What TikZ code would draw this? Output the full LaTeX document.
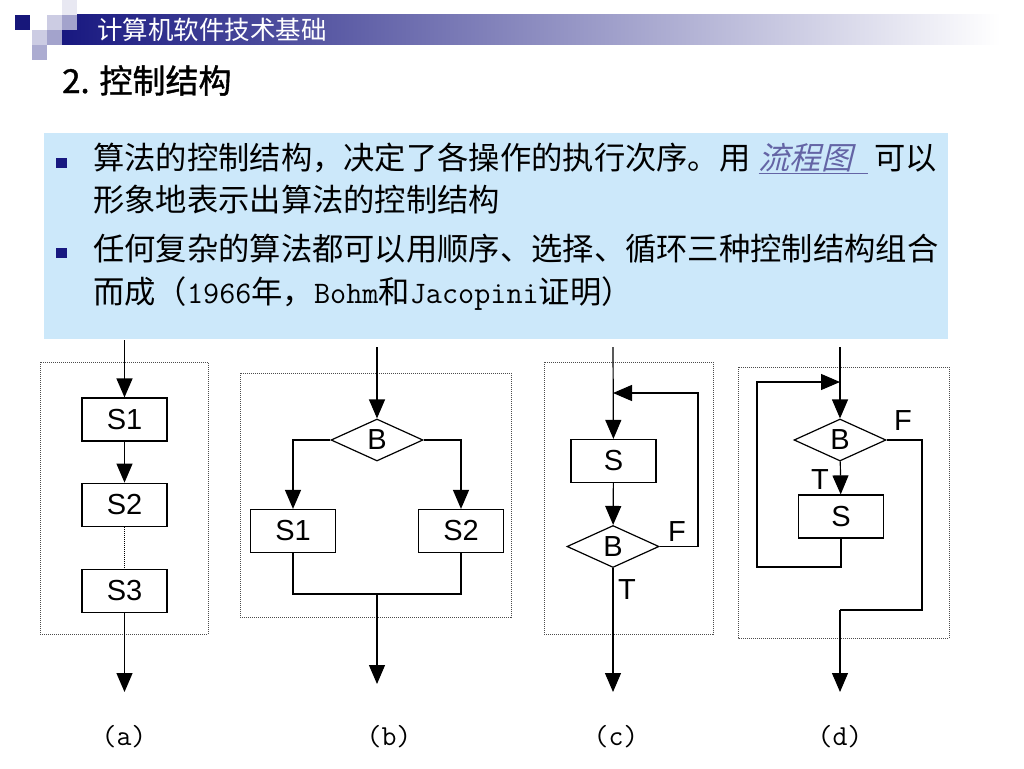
\documentclass[tikz,border=0pt]{standalone}
\usepackage{fontspec}
\usetikzlibrary{positioning,arrows.meta,shapes.geometric}
\newfontfamily\cjk{Noto Sans CJK SC}
\newfontfamily\cjkmed[FakeBold=1.2]{Noto Sans CJK SC}
\newfontfamily\cjkit[FakeSlant=0.25]{Noto Sans CJK SC}
\newfontfamily\arial{Liberation Sans}
\definecolor{navy}{RGB}{24,24,128}
\definecolor{boxblue}{RGB}{204,232,250}
\definecolor{linkc}{RGB}{100,100,165}

\begin{document}
\begin{tikzpicture}[x=1pt,y=-1pt,
    blk/.style={draw,line width=1.2pt,minimum width=85pt,minimum height=43pt,inner sep=0pt,font=\arial\fontsize{29}{29}\selectfont},
    cond/.style={draw,diamond,aspect=2.2,line width=1.2pt,minimum width=92pt,minimum height=42pt,inner sep=0pt,font=\arial\fontsize{29}{29}\selectfont},
    flow/.style={-{Triangle[length=19pt,width=16pt]},line width=1.2pt},
    frm/.style={draw=black!70,line width=0.8pt,dash pattern=on 1pt off 1pt},
    lbl/.style={font=\arial\fontsize{29}{29}\selectfont,inner sep=0pt},
    tag/.style={font=\ttfamily\fontsize{29}{29}\selectfont},
    line/.style={anchor=base west,inner sep=0pt,font=\cjk\fontsize{31.3}{31.3}\selectfont}]
    \useasboundingbox (0,0) rectangle (1024,768);
    \fill[white] (0,0) rectangle (1024,768);

    % header bar
    \shade[left color=navy,right color=white] (62,15) rectangle (1000,45);
    \fill[navy!95!black] (15,15) rectangle (30,30);
    \fill[navy!22] (47,15) rectangle (62,30);
    \fill[navy!10] (62,0) rectangle (77,15);
    \fill[navy!40] (62,15) rectangle (77,30);
    \fill[navy!22] (32,30) rectangle (47,45);
    \fill[navy!40] (47,30) rectangle (62,45);
    \fill[navy!36] (32,45) rectangle (47,60);
    \node[anchor=west,inner sep=0pt,text=white,font=\cjk\fontsize{25.5}{25.5}\selectfont] (head) at (97,30) {计算机软件技术基础};
    \node[anchor=base west,inner sep=0pt,font=\cjkmed\fontsize{33}{33}\selectfont] (title) at (62,93) {2. 控制结构};

    % text box
    \fill[boxblue] (44,133) rectangle (948,339);
    \fill[navy] (56,158) rectangle (67,168);
    \fill[navy] (56,248) rectangle (67,258);
    \node[line] (t1) at (93,169) {算法的控制结构，决定了各操作的执行次序。用\hspace{8pt}{\color{linkc}\underline{\cjkit 流程图\hspace{16pt}}}\hspace{6pt}可以};
    \node[line] (t2) at (93,211) {形象地表示出算法的控制结构};
    \node[line] (t3) at (93,260) {任何复杂的算法都可以用顺序、选择、循环三种控制结构组合};
    \node[line] (t4) at (93,303) {而成（{\ttfamily 1966}年，{\ttfamily Bohm}和{\ttfamily Jacopini}证明）};

    % (a) sequence
    \draw[frm] (40,362) rectangle (208,634);
    \coordinate (ain) at (124.5,340);
    \node[blk] (a1) at (124.5,419.5) {S1};
    \node[blk] (a2) [below=41pt of a1] {S2};
    \node[blk] (a3) [below=42pt of a2] {S3};
    \coordinate (aout) at (124.5,692);
    \draw[flow] (ain) -- (a1);
    \draw[flow] (a1) -- (a2);
    \draw[line width=0.8pt,dash pattern=on 1pt off 1pt] (a2) -- (a3);
    \draw[flow] (a3) -- (aout);

    % (b) selection
    \draw[frm] (240,373) rectangle (511,617);
    \coordinate (bin) at (377,347);
    \node[cond] (bc) at (377,440) {B};
    \node[blk] (b1) at (293,531) {S1};
    \node[blk] (b2) at (461,531) {S2};
    \coordinate (bj) at (377,594);
    \coordinate (bout) at (377,684);
    \draw[flow] (bin) -- (bc);
    \draw[flow] (bc.west) -| (b1);
    \draw[flow] (bc.east) -| (b2);
    \draw[line width=1.2pt] (b1.south) |- (bj) -| (b2.south);
    \draw[flow] (bj) -- (bout);

    % (c) do-until loop
    \draw[frm] (544,362) rectangle (713,634);
    \coordinate (cin) at (613,347);
    \coordinate (cback) at (613,393);
    \coordinate (cturn) at (698,393);
    \node[blk] (cs) at (613.5,461) {S};
    \node[cond] (cc) at (613,546.5) {B};
    \coordinate (cout) at (613,692);
    \draw[flow] (cin) -- (cs);
    \draw[flow] (cs) -- (cc);
    \draw[flow] (cc.east) -| (cturn) -- (cback);
    \draw[flow] (cc) -- (cout);
    \node[lbl] (cf) at (677,532) {F};
    \node[lbl] (ct) at (627,590) {T};

    % (d) while loop
    \draw[frm] (738,367) rectangle (949,638);
    \coordinate (din) at (840,347);
    \node[cond] (dc) at (840,440) {B};
    \node[blk] (ds) at (841,516.5) {S};
    \coordinate (dl) at (757,567);
    \coordinate (dback) at (840,382);
    \coordinate (dr) at (922,610);
    \coordinate (dj) at (840,610);
    \coordinate (dout) at (840,692);
    \draw[flow] (din) -- (dc);
    \draw[flow] (dc) -- (ds);
    \draw[flow] (ds.south) |- (dl) |- (dback);
    \draw[line width=1.2pt] (dc.east) -| (dr) -- (dj);
    \draw[flow] (dj) -- (dout);
    \node[lbl] (df) at (903,421) {F};
    \node[lbl] (dt) at (820,480) {T};

    % captions
    \node[tag] (la) at (124,737) {(a)};
    \node[tag] (lb) at (389,737) {(b)};
    \node[tag] (lc) at (616,737) {(c)};
    \node[tag] (ld) at (840,737) {(d)};
\end{tikzpicture}
\end{document}
